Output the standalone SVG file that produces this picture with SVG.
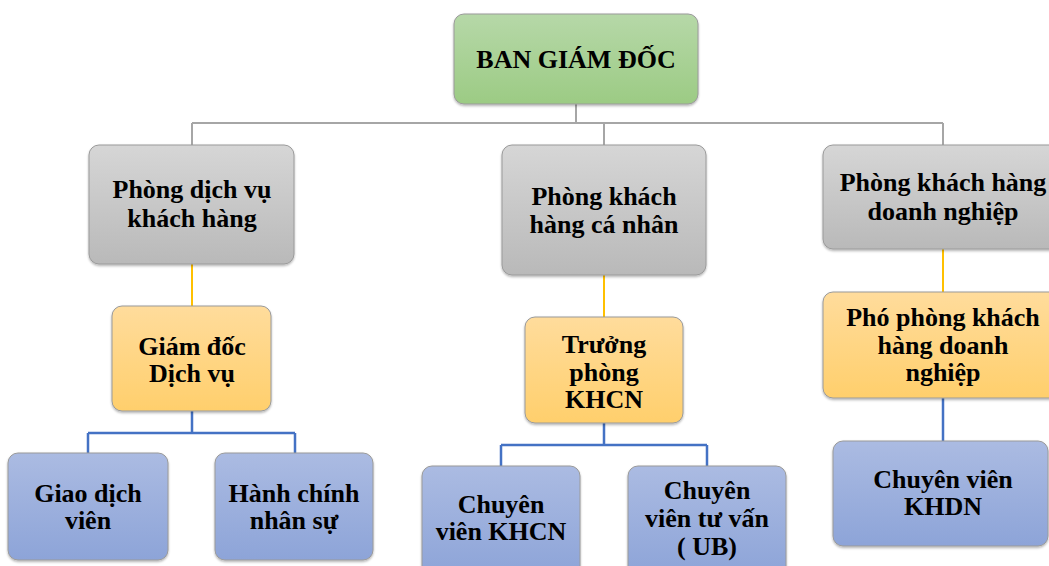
<svg xmlns="http://www.w3.org/2000/svg" width="1049" height="566" viewBox="0 0 1049 566">
<defs>
<linearGradient id="gGreen" x1="0" y1="0" x2="0" y2="1"><stop offset="0" stop-color="#b6d8a8"/><stop offset="1" stop-color="#9ccb84"/></linearGradient>
<linearGradient id="gGray" x1="0" y1="0" x2="0" y2="1"><stop offset="0" stop-color="#d6d6d6"/><stop offset="1" stop-color="#b9b9b9"/></linearGradient>
<linearGradient id="gYellow" x1="0" y1="0" x2="0" y2="1"><stop offset="0" stop-color="#ffdc9c"/><stop offset="1" stop-color="#ffcf6c"/></linearGradient>
<linearGradient id="gBlue" x1="0" y1="0" x2="0" y2="1"><stop offset="0" stop-color="#abbbe2"/><stop offset="1" stop-color="#8da4d8"/></linearGradient>
<filter id="sh" x="-10%" y="-10%" width="120%" height="130%"><feDropShadow dx="0" dy="1.5" stdDeviation="1.2" flood-color="#000" flood-opacity="0.3"/></filter>
</defs>
<style>
.box{stroke:#9a9a9a;stroke-width:1;filter:url(#sh)}
.green{fill:url(#gGreen)}
.gray{fill:url(#gGray)}
.yellow{fill:url(#gYellow)}
.blue{fill:url(#gBlue)}
text{font-family:"Liberation Serif","Times New Roman",serif;font-weight:bold;font-size:26px;fill:#000;text-anchor:middle}
.cg{stroke:#a6a6a6;stroke-width:2;fill:none}
.cy{stroke:#ffc000;stroke-width:2;fill:none}
.cb{stroke:#4472c4;stroke-width:2.5;fill:none}
</style>
<rect width="1049" height="566" fill="#fff"/>
<g id="connectors">
<path class="cg" d="M576 104V123M192 123H943M192 123V145M604 123V145M943 123V145"/>
<path class="cy" d="M192 264V306M604 275V317M943 249V292"/>
<path class="cb" d="M192 411V433M88 433H295M88 433V453M295 433V453"/>
<path class="cb" d="M604 423V445M501 445H707M501 445V466M707 445V466"/>
<path class="cb" d="M943 398V441"/>
</g>
<g id="ban-giam-doc"><rect class="box green" x="454" y="14" width="244" height="90" rx="10"/><text x="576" y="68">BAN GIÁM ĐỐC</text></g>
<g id="phong-dich-vu-khach-hang"><rect class="box gray" x="89" y="145" width="205" height="119" rx="10"/><text x="192" y="198">Phòng dịch vụ</text><text x="192" y="227">khách hàng</text></g>
<g id="phong-khach-hang-ca-nhan"><rect class="box gray" x="502" y="145" width="204" height="130" rx="10"/><text x="604" y="205">Phòng khách</text><text x="604" y="233">hàng cá nhân</text></g>
<g id="phong-khach-hang-doanh-nghiep"><rect class="box gray" x="823" y="145" width="240" height="104" rx="10"/><text x="943" y="191">Phòng khách hàng</text><text x="943" y="220">doanh nghiệp</text></g>
<g id="giam-doc-dich-vu"><rect class="box yellow" x="112" y="306" width="159" height="105" rx="10"/><text x="192" y="355">Giám đốc</text><text x="192" y="382">Dịch vụ</text></g>
<g id="truong-phong-khcn"><rect class="box yellow" x="525" y="317" width="158" height="106" rx="10"/><text x="604" y="353">Trưởng</text><text x="604" y="381">phòng</text><text x="604" y="408">KHCN</text></g>
<g id="pho-phong-khdn"><rect class="box yellow" x="823" y="292" width="240" height="106" rx="10"/><text x="943" y="326">Phó phòng khách</text><text x="943" y="354">hàng doanh</text><text x="943" y="381">nghiệp</text></g>
<g id="giao-dich-vien"><rect class="box blue" x="8" y="453" width="160" height="107" rx="10"/><text x="88" y="502">Giao dịch</text><text x="88" y="529">viên</text></g>
<g id="hanh-chinh-nhan-su"><rect class="box blue" x="215" y="453" width="158" height="107" rx="10"/><text x="294" y="502">Hành chính</text><text x="294" y="529">nhân sự</text></g>
<g id="chuyen-vien-khcn"><rect class="box blue" x="422" y="466" width="158" height="110" rx="10"/><text x="501" y="513">Chuyên</text><text x="501" y="540">viên KHCN</text></g>
<g id="chuyen-vien-tu-van"><rect class="box blue" x="628" y="466" width="158" height="110" rx="10"/><text x="707" y="499">Chuyên</text><text x="707" y="527">viên tư vấn</text><text x="707" y="555">( UB)</text></g>
<g id="chuyen-vien-khdn"><rect class="box blue" x="833" y="441" width="215" height="105" rx="10"/><text x="943" y="488">Chuyên viên</text><text x="943" y="515">KHDN</text></g>
</svg>
